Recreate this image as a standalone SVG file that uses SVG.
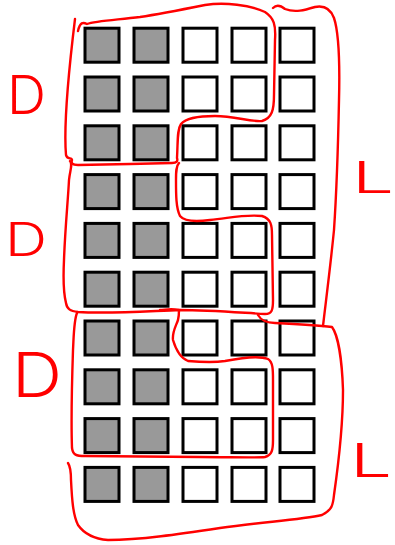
<svg xmlns="http://www.w3.org/2000/svg" width="395" height="545" viewBox="0 0 395 545">
<defs>
<style>
.cell{stroke:#000;stroke-width:3;}
.d{fill:#999999;}
.l{fill:#ffffff;}
.pen{fill:none;stroke:#ff0000;stroke-width:2.4;stroke-linecap:round;stroke-linejoin:round;}
.lbl{fill:#ff0000;font-family:"Inter","Liberation Sans","DejaVu Sans",sans-serif;font-weight:300;}
</style>
</defs>
<rect width="395" height="545" fill="#ffffff"/>
<g id="grid">
<g id="row0"><rect class="cell d" x="85" y="28.2" width="34" height="34"/><rect class="cell d" x="134" y="28.2" width="34" height="34"/><rect class="cell l" x="183" y="28.2" width="34" height="34"/><rect class="cell l" x="232" y="28.2" width="34" height="34"/><rect class="cell l" x="280" y="28.2" width="34" height="34"/></g>
<g id="row1"><rect class="cell d" x="85" y="77" width="34" height="34"/><rect class="cell d" x="134" y="77" width="34" height="34"/><rect class="cell l" x="183" y="77" width="34" height="34"/><rect class="cell l" x="232" y="77" width="34" height="34"/><rect class="cell l" x="280" y="77" width="34" height="34"/></g>
<g id="row2"><rect class="cell d" x="85" y="125.8" width="34" height="34"/><rect class="cell d" x="134" y="125.8" width="34" height="34"/><rect class="cell l" x="183" y="125.8" width="34" height="34"/><rect class="cell l" x="232" y="125.8" width="34" height="34"/><rect class="cell l" x="280" y="125.8" width="34" height="34"/></g>
<g id="row3"><rect class="cell d" x="85" y="174.6" width="34" height="34"/><rect class="cell d" x="134" y="174.6" width="34" height="34"/><rect class="cell l" x="183" y="174.6" width="34" height="34"/><rect class="cell l" x="232" y="174.6" width="34" height="34"/><rect class="cell l" x="280" y="174.6" width="34" height="34"/></g>
<g id="row4"><rect class="cell d" x="85" y="223.4" width="34" height="34"/><rect class="cell d" x="134" y="223.4" width="34" height="34"/><rect class="cell l" x="183" y="223.4" width="34" height="34"/><rect class="cell l" x="232" y="223.4" width="34" height="34"/><rect class="cell l" x="280" y="223.4" width="34" height="34"/></g>
<g id="row5"><rect class="cell d" x="85" y="272.2" width="34" height="34"/><rect class="cell d" x="134" y="272.2" width="34" height="34"/><rect class="cell l" x="183" y="272.2" width="34" height="34"/><rect class="cell l" x="232" y="272.2" width="34" height="34"/><rect class="cell l" x="280" y="272.2" width="34" height="34"/></g>
<g id="row6"><rect class="cell d" x="85" y="321" width="34" height="34"/><rect class="cell d" x="134" y="321" width="34" height="34"/><rect class="cell l" x="183" y="321" width="34" height="34"/><rect class="cell l" x="232" y="321" width="34" height="34"/><rect class="cell l" x="280" y="321" width="34" height="34"/></g>
<g id="row7"><rect class="cell d" x="85" y="369.8" width="34" height="34"/><rect class="cell d" x="134" y="369.8" width="34" height="34"/><rect class="cell l" x="183" y="369.8" width="34" height="34"/><rect class="cell l" x="232" y="369.8" width="34" height="34"/><rect class="cell l" x="280" y="369.8" width="34" height="34"/></g>
<g id="row8"><rect class="cell d" x="85" y="418.6" width="34" height="34"/><rect class="cell d" x="134" y="418.6" width="34" height="34"/><rect class="cell l" x="183" y="418.6" width="34" height="34"/><rect class="cell l" x="232" y="418.6" width="34" height="34"/><rect class="cell l" x="280" y="418.6" width="34" height="34"/></g>
<g id="row9"><rect class="cell d" x="85" y="467.4" width="34" height="34"/><rect class="cell d" x="134" y="467.4" width="34" height="34"/><rect class="cell l" x="183" y="467.4" width="34" height="34"/><rect class="cell l" x="232" y="467.4" width="34" height="34"/><rect class="cell l" x="280" y="467.4" width="34" height="34"/></g>
</g>
<g id="annotations">
<path id="region-D1" class="pen" d="M 75 19 C 70 60, 63 120, 66 155 C 67 160, 72 157, 72 160 C 71 163, 72 165, 78 165 L 130 164 L 172 163 C 177 163, 178 161, 177 158 C 178 140, 177 130, 181 124 C 186 118, 200 116, 215 116 C 235 116, 250 122, 262 121 C 272 118, 274 110, 274 95 L 275 40 C 276 25, 274 18, 265 12 C 250 5, 225 2, 205 5 C 180 10, 160 14, 140 17 C 115 20, 95 21, 87 24 C 83 22, 80 22, 78 31"/>
<path id="region-D2" class="pen" d="M 70 161 C 73 164, 70 170, 69 180 C 68 200, 65 230, 64 260 C 63 280, 64 295, 66 303 C 67 309, 70 311, 78 312 C 110 314, 150 311, 180 310 C 210 310, 245 313, 265 314 C 272 314, 273 310, 273 300 L 272 235 C 272 225, 271 219, 262 216 C 245 214, 230 218, 210 220 C 195 222, 184 221, 180 216 C 176 208, 176 195, 176 180 C 176 172, 176 166, 179 163"/>
<path id="region-L1" class="pen" d="M 273 8 C 276 5, 280 5, 285 9 C 295 13, 305 10, 315 7 C 325 5, 331 10, 334 18 C 338 30, 340 60, 339 100 C 338 150, 336 200, 334 230 C 330 270, 326 300, 323 326"/>
<path id="region-D3" class="pen" d="M 77 313 C 74 320, 74 330, 73 350 C 72 380, 71 420, 72 448 C 73 455, 76 456, 85 456 C 120 456, 160 457, 200 457 C 230 457, 255 458, 265 457 C 272 455, 273 450, 273 440 L 273 380 C 273 370, 273 362, 268 359 C 258 355, 240 358, 225 361 C 212 363, 200 362, 188 361 C 180 358, 176 350, 173 340 C 172 332, 176 326, 178 320 C 179 316, 179 312, 179 310 C 170 308, 165 310, 160 310"/>
<path id="region-L2" class="pen" d="M 258 315 C 261 320, 265 323, 275 323 C 295 324, 315 325, 332 327 C 338 335, 342 360, 343 390 C 343 420, 339 460, 334 495 C 333 505, 332 510, 322 515 C 300 520, 260 522, 220 528 C 180 534, 140 540, 108 540 C 95 539, 85 535, 78 525 C 73 515, 72 500, 71 480 C 71 472, 70 466, 68 463"/>
<text class="lbl" x="7" y="114" font-size="54" textLength="39" lengthAdjust="spacingAndGlyphs">D</text>
<text class="lbl" x="5" y="256" font-size="46" textLength="42" lengthAdjust="spacingAndGlyphs">D</text>
<text class="lbl" x="12" y="397" font-size="62" textLength="50" lengthAdjust="spacingAndGlyphs">D</text>
<text class="lbl" x="352" y="193" font-size="44" textLength="42" lengthAdjust="spacingAndGlyphs">L</text>
<text class="lbl" x="350" y="477" font-size="47" textLength="42" lengthAdjust="spacingAndGlyphs">L</text>
</g>
</svg>
